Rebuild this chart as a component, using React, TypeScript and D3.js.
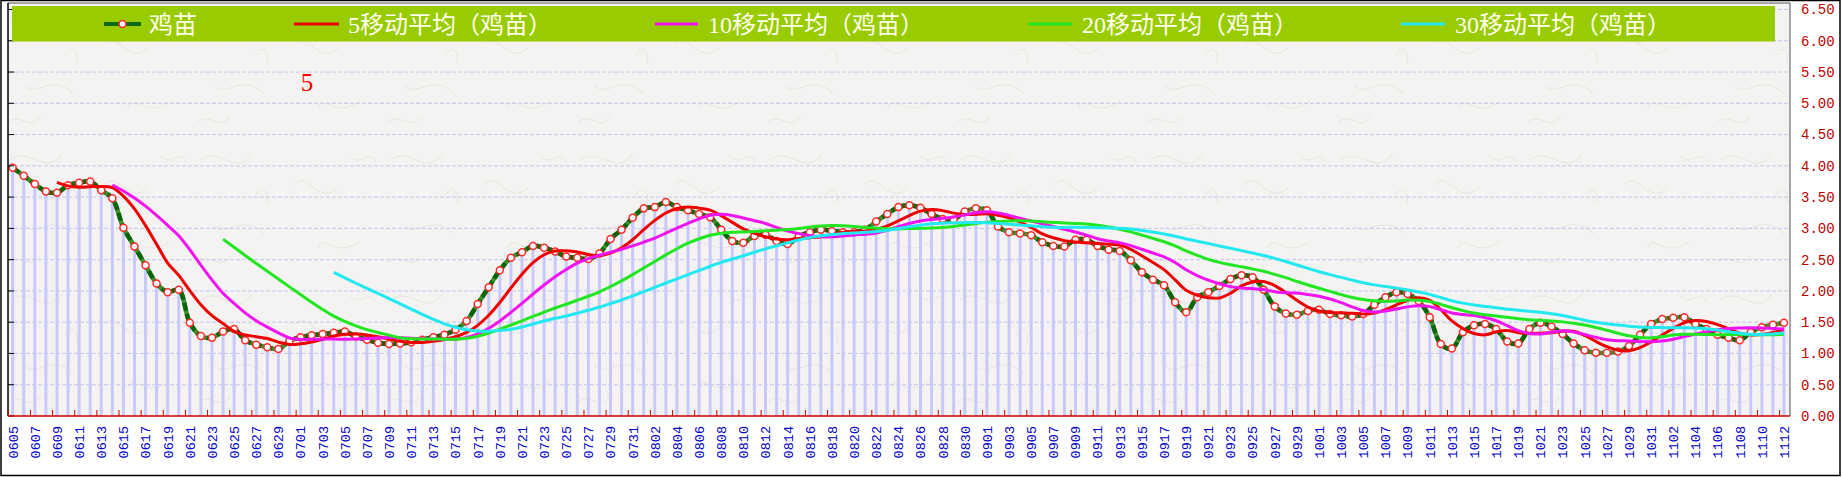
import React from 'react';
import * as d3 from 'd3';

// daily price of 鸡苗, 0605 .. 1112
const startDay = new Date(2000, 5, 5);
const endDay = new Date(2000, 10, 13); // exclusive
const days = d3.timeDay.range(startDay, endDay).map(d3.timeFormat('%m%d'));

const prices = [
  3.97, 3.84, 3.71, 3.59, 3.57, 3.69, 3.73, 3.75, 3.61, 3.48,
  3.01, 2.71, 2.41, 2.12, 1.98, 2.02, 1.49, 1.28, 1.25, 1.35,
  1.39, 1.21, 1.14, 1.10, 1.07, 1.20, 1.26, 1.29, 1.31, 1.33,
  1.35, 1.27, 1.22, 1.17, 1.15, 1.16, 1.18, 1.22, 1.26, 1.30,
  1.38, 1.52, 1.79, 2.06, 2.33, 2.53, 2.62, 2.72, 2.69, 2.63,
  2.55, 2.53, 2.51, 2.60, 2.83, 2.98, 3.17, 3.32, 3.34, 3.42,
  3.34, 3.29, 3.23, 3.18, 2.98, 2.80, 2.77, 2.88, 2.90, 2.80,
  2.75, 2.87, 2.94, 2.98, 2.96, 2.94, 2.94, 2.98, 3.11, 3.23,
  3.34, 3.37, 3.33, 3.23, 3.15, 3.14, 3.27, 3.32, 3.29, 3.03,
  2.94, 2.92, 2.89, 2.78, 2.72, 2.71, 2.82, 2.82, 2.72, 2.66,
  2.64, 2.49, 2.30, 2.18, 2.09, 1.82, 1.66, 1.90, 1.98, 2.08,
  2.19, 2.25, 2.22, 2.02, 1.75, 1.64, 1.62, 1.68, 1.70, 1.63,
  1.61, 1.59, 1.63, 1.78, 1.90, 1.98, 1.95, 1.84, 1.58, 1.15,
  1.08, 1.34, 1.45, 1.47, 1.39, 1.19, 1.16, 1.39, 1.49, 1.43,
  1.31, 1.16, 1.05, 1.01, 1.01, 1.03, 1.12, 1.30, 1.47, 1.55,
  1.57, 1.58, 1.47, 1.39, 1.30, 1.25, 1.21, 1.34, 1.42, 1.46, 1.49,
];

const maWindows = [5, 10, 20, 30];
const maColors = ['#ee0000', '#f014f0', '#22e622', '#22e8f0'];
const legendLabels = ['鸡苗', '5移动平均（鸡苗）', '10移动平均（鸡苗）', '20移动平均（鸡苗）', '30移动平均（鸡苗）'];
const yTicks = d3.range(0, 6.51, 0.5);

// the moving averages the legend names, taken over the daily prices
const movingAvg = (n) =>
  prices.map((_, i) => (i < n - 1 ? null : d3.mean(prices.slice(i - n + 1, i + 1))));

const W = 1842;
const H = 477;
const plot = { left: 8, right: 1790, top: 3, bottom: 416 };

export default function App() {
  const x = d3.scalePoint().domain(days).range([12.7, 1784]);
  const y = d3.scaleLinear().domain([0, 6.5]).range([plot.bottom, 9.5]);

  const line = d3.line()
    .defined((d) => d[1] != null)
    .x((d) => x(days[d[0]]))
    .y((d) => y(d[1]))
    .curve(d3.curveCatmullRom.alpha(0.5));

  const basePts = prices.map((v, i) => [i, v]);
  const maSeries = maWindows.map((n) => movingAvg(n).map((v, i) => [i, v]));

  const legendItems = [
    { line: [104, 141], text: 149 },
    { line: [294, 339], text: 348 },
    { line: [655, 698], text: 708 },
    { line: [1028, 1072], text: 1082 },
    { line: [1401, 1445], text: 1455 },
  ];

  return (
    <svg width={W} height={H} style={{ position: 'absolute', left: 0, top: 0, background: '#fff' }}>
      <defs>
        <pattern id="paper" width="190" height="140" patternUnits="userSpaceOnUse">
          <rect width="190" height="140" fill="#f4f3f1" />
          <g fill="none" stroke="#dedcd9" strokeWidth="0.7">
            <path d="M10,20 C30,5 45,38 62,14" />
            <path d="M105,44 C118,30 128,66 148,48" />
            <path d="M25,86 C37,98 52,72 74,94" />
            <path d="M128,108 C133,92 146,120 170,101" />
            <path d="M66,55 C70,45 80,50 77,63" />
            <path d="M8,122 C20,112 31,132 40,116" />
            <path d="M160,16 C172,28 178,8 186,22" />
          </g>
        </pattern>
      </defs>

      {/* plot background */}
      <rect x={plot.left} y={plot.top} width={plot.right - plot.left} height={plot.bottom - plot.top} fill="url(#paper)" />

      {/* grid */}
      {yTicks.filter((t) => t > 0).map((t) => (
        <line key={t} x1={plot.left} x2={plot.right} y1={y(t)} y2={y(t)}
          stroke="#c4c4f0" strokeWidth={1} strokeDasharray="4,2" />
      ))}

      {/* bars */}
      {prices.map((v, i) => (
        <line key={i} x1={x(days[i])} x2={x(days[i])} y1={y(0)} y2={y(v)}
          stroke="#c8c8fa" strokeWidth={3} />
      ))}

      {/* base line */}
      <path d={line(basePts)} fill="none" stroke="#3f8f2f" strokeWidth={4.5} />
      <path d={line(basePts)} fill="none" stroke="#0a650a" strokeWidth={4.5} strokeDasharray="8,3" />
      {prices.map((v, i) => (
        <circle key={i} cx={x(days[i])} cy={y(v)} r={3.5} fill="#fff" stroke="#ff2a2a" strokeWidth={1.5} />
      ))}

      {/* moving averages */}
      {maSeries.map((s, k) => (
        <path key={k} d={line(s)} fill="none" stroke={maColors[k]} strokeWidth={3} />
      ))}

      {/* borders and axes */}
      <line x1={plot.right} x2={plot.right} y1={plot.top} y2={plot.bottom} stroke="#888" strokeWidth={1.5} />
      <line x1={plot.left} x2={plot.right} y1={plot.top} y2={plot.top} stroke="#555" strokeWidth={1} />
      <line x1={plot.left} x2={plot.left} y1={plot.top} y2={plot.bottom} stroke="#000" strokeWidth={1.5} />
      {yTicks.map((t) => (
        <line key={t} x1={plot.left} x2={plot.left + 6} y1={y(t)} y2={y(t)} stroke="#000" strokeWidth={1} />
      ))}
      <line x1={plot.left} x2={plot.right} y1={plot.bottom} y2={plot.bottom} stroke="#cc0000" strokeWidth={1.5} />
      {days.map((d, i) => (i % 2 === 0 ? (
        <line key={d} x1={x(d) - 4.4} x2={x(d) - 4.4} y1={plot.bottom} y2={plot.bottom - 6}
          stroke="#cc0000" strokeWidth={1} />
      ) : null))}

      {/* x labels */}
      {days.map((d, i) => (i % 2 === 0 ? (
        <text key={d} transform={`translate(${x(d)},426) rotate(-90)`} textAnchor="end" dy="0.36em"
          fontFamily="'Liberation Mono', monospace" fontSize={13.5} fill="#0000c8">{d}</text>
      ) : null))}

      {/* y labels */}
      {yTicks.map((t) => (
        <text key={t} x={1801} y={y(t)} dy="0.35em" fontFamily="'Liberation Mono', monospace"
          fontSize={14} fill="#c00000">{t.toFixed(2)}</text>
      ))}

      {/* legend */}
      <rect x={12} y={6} width={1763} height={35.5} fill="#99cc00" />
      {legendItems.map((it, k) => (
        <g key={k}>
          <line x1={it.line[0]} x2={it.line[1]} y1={24} y2={24}
            stroke={k === 0 ? '#0a6a0a' : maColors[k - 1]} strokeWidth={k === 0 ? 4 : 3} />
          {k === 0 ? (
            <circle cx={(it.line[0] + it.line[1]) / 2} cy={24} r={3.5} fill="#fff" stroke="#ff2a2a" strokeWidth={1.5} />
          ) : null}
          <text x={it.text} y={24} dy="0.36em" fontFamily="'Liberation Serif', 'Noto Sans CJK SC', serif"
            fontSize={24} fill="#fffff0">{legendLabels[k]}</text>
        </g>
      ))}

      <text x={307} y={91} textAnchor="middle" fontFamily="'Liberation Serif', serif" fontSize={25} fill="#ff0000">5</text>

      {/* outer frame */}
      <rect x={1} y={0.5} width={W - 3} height={H - 2} fill="none" stroke="#000" strokeWidth={1.5} />
    </svg>
  );
}
